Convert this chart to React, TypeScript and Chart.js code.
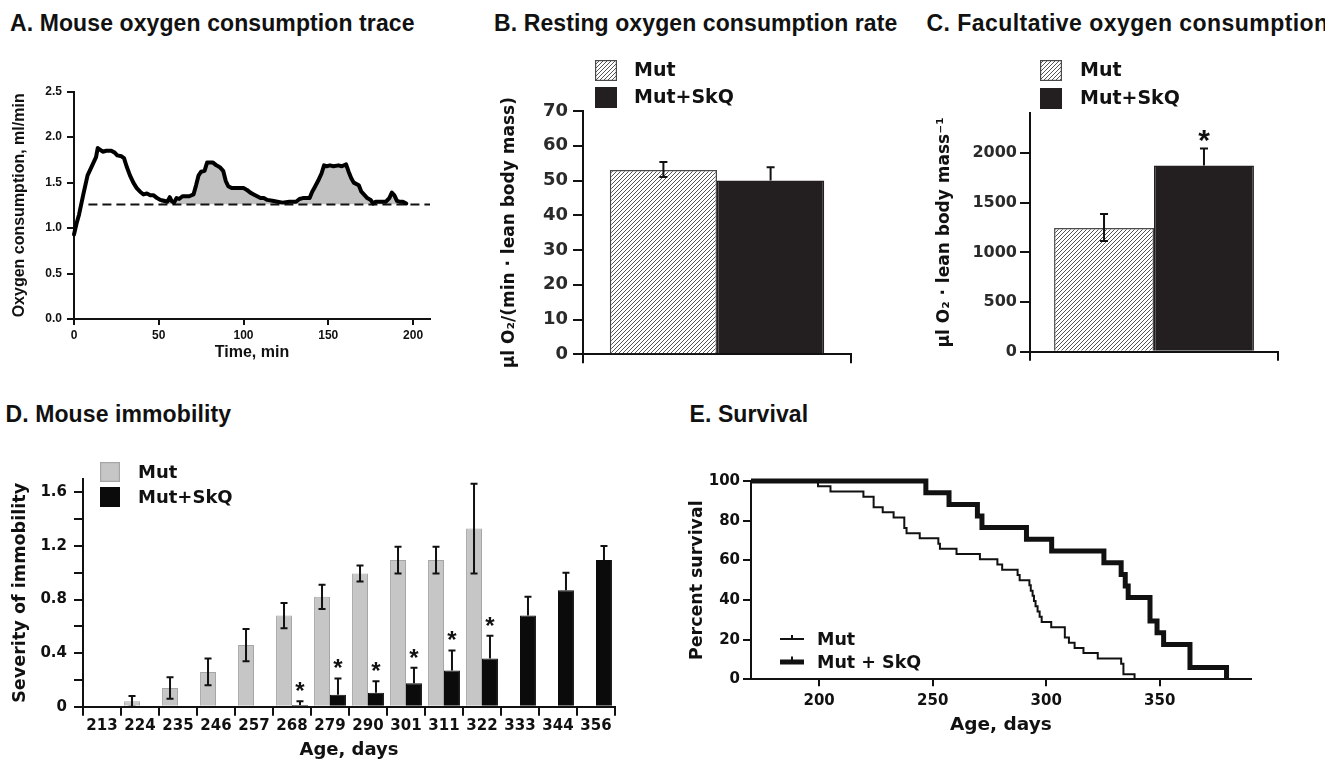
import React, { useEffect, useRef } from 'react';
import { Chart, registerables } from 'chart.js';

Chart.register(...registerables);

const DJ = '"DejaVu Sans", "Liberation Sans", sans-serif';
const LS = '"Liberation Sans", Arial, Helvetica, sans-serif';
const INK = '#111111';

// ---------- Panel titles
const panelTitles = [
  'A. Mouse oxygen consumption trace',
  'B. Resting oxygen consumption rate',
  'C. Facultative oxygen consumption',
  'D. Mouse immobility',
  'E. Survival',
];

// ---------- Panel A: oxygen consumption trace
const traceTime = [0, 1.5, 3, 5.5, 8, 10, 11.5, 13, 14, 15.5, 17, 19, 22, 24, 25.5, 28, 29.5, 31, 33, 35, 37, 39, 41, 43, 45, 47, 49, 51, 53, 55, 56.5, 57.5, 59, 60.5, 62, 64, 66, 68, 70.5, 72, 73.5, 75, 77, 78.5, 80, 82, 84, 86, 88, 89.5, 91, 93, 96, 100, 102, 104, 106, 108, 110, 112, 114, 117, 120, 123, 127, 131, 133, 135, 139, 140.5, 142, 144, 146, 147.5, 149, 151, 153, 156, 158, 160.5, 162, 163.5, 165, 168, 169.5, 171, 173, 175, 176.5, 178, 180, 184, 186, 187.5, 189, 190.5, 192, 194, 196];
const traceValue = [0.93, 1.05, 1.15, 1.37, 1.58, 1.66, 1.72, 1.78, 1.88, 1.86, 1.84, 1.85, 1.85, 1.83, 1.8, 1.79, 1.77, 1.68, 1.58, 1.5, 1.44, 1.4, 1.37, 1.38, 1.36, 1.36, 1.33, 1.31, 1.3, 1.29, 1.34, 1.3, 1.28, 1.33, 1.32, 1.35, 1.35, 1.35, 1.37, 1.47, 1.58, 1.62, 1.63, 1.72, 1.72, 1.72, 1.69, 1.67, 1.63, 1.52, 1.46, 1.44, 1.44, 1.44, 1.42, 1.39, 1.37, 1.35, 1.33, 1.33, 1.31, 1.3, 1.29, 1.28, 1.29, 1.29, 1.32, 1.33, 1.33, 1.4, 1.45, 1.52, 1.6, 1.69, 1.68, 1.69, 1.68, 1.69, 1.68, 1.7, 1.62, 1.55, 1.5, 1.47, 1.4, 1.37, 1.33, 1.31, 1.27, 1.29, 1.29, 1.29, 1.33, 1.39, 1.36, 1.3, 1.29, 1.29, 1.27];
const baselineLevel = 1.26;
const baselineSpan = [8.5, 210];
const shadeFrom = 50;
const traceTicksX = [0, 50, 100, 150, 200];
const traceTicksY = [0, 0.5, 1, 1.5, 2, 2.5];

// ---------- Panels B and C
const groups = ['Mut', 'Mut+SkQ'];
const restingMean = [53.0, 50.0];
const restingErrUp = [2.3, 3.8];
const restingErrDown = [2.0, 0];
const restingTicks = [0, 10, 20, 30, 40, 50, 60, 70];
const facultMean = [1245, 1875];
const facultErrUp = [140, 170];
const facultErrDown = [130, 0];
const facultStars = [false, true];
const facultTicks = [0, 500, 1000, 1500, 2000];

// ---------- Panel D: immobility
const ageLabels = ['213', '224', '235', '246', '257', '268', '279', '290', '301', '311', '322', '333', '344', '356'];
const immobMut = [0, 0.04, 0.14, 0.26, 0.46, 0.68, 0.82, 0.995, 1.095, 1.095, 1.33, null, null, null];
const immobMutErr = [0, 0.04, 0.08, 0.1, 0.12, 0.095, 0.09, 0.06, 0.1, 0.1, 0.335, null, null, null];
const immobSkq = [0, 0, 0, 0, 0, 0.013, 0.09, 0.105, 0.175, 0.27, 0.36, 0.68, 0.87, 1.095];
const immobSkqErr = [0, 0, 0, 0, 0, 0.027, 0.12, 0.085, 0.115, 0.15, 0.17, 0.14, 0.13, 0.105];
const immobStars = [false, false, false, false, false, true, true, true, true, true, true, false, false, false];
const immobTicks = [0, 0.2, 0.4, 0.6, 0.8, 1.0, 1.2, 1.4, 1.6];
const immobLabelled = [0, 0.4, 0.8, 1.2, 1.6];

// ---------- Panel E: survival
const survMutDays = [170, 199.5, 205, 219.5, 224, 228, 232.8, 237.5, 238.5, 244.3, 252.5, 253.2, 260.5, 270.8, 278.5, 280.6, 287.4, 288.3, 292.6, 293.2, 294, 294.6, 295.3, 296.2, 297.1, 298, 302.2, 308.2, 310, 312.5, 316.4, 322.7, 333, 334, 338.9];
const survMutPct = [100, 97.4, 94.7, 92.1, 86.8, 84.2, 81.6, 76.3, 73.7, 71.1, 68.4, 65.8, 63.2, 60.5, 57.9, 55.3, 52.6, 50.0, 47.4, 44.7, 42.1, 39.5, 36.8, 34.2, 31.6, 28.9, 26.3, 21.1, 18.4, 15.8, 13.2, 10.5, 7.9, 2.6, 0];
const survSkqDays = [170, 247, 257.2, 269.7, 271.7, 291.3, 302.4, 325.4, 333, 334.8, 336.1, 345.7, 348.8, 351.7, 363.3, 379.4];
const survSkqPct = [100, 94.1, 88.2, 82.4, 76.5, 70.6, 64.7, 58.8, 52.9, 47.1, 41.2, 29.4, 23.5, 17.6, 5.9, 0];
const survSeries = ['Mut', 'Mut + SkQ'];
const survTicksX = [200, 250, 300, 350];
const survTicksY = [0, 20, 40, 60, 80, 100];

// ---------- helpers
const bold = (family: string, size: number) => ({ family, size, weight: 'bold' as const });
const setTicks = (vals: number[]) => (s: any) => {
  s.ticks = vals.map((v) => ({ value: v }));
};
const plainNumber = (v: any) => String(Number(v));

const axisGrid = (tickLength: number) => ({
  display: true,
  drawOnChartArea: false,
  drawTicks: true,
  tickLength,
  color: INK,
  lineWidth: 2,
});
const axisBorder = { display: true, color: INK, width: 2 };

const errorBars = {
  id: 'errorBars',
  afterDatasetsDraw(chart: any) {
    const ctx = chart.ctx;
    chart.data.datasets.forEach((ds: any, i: number) => {
      if (!ds.errUp && !ds.stars) return;
      const meta = chart.getDatasetMeta(i);
      const ys = chart.scales[meta.yAxisID];
      meta.data.forEach((el: any, j: number) => {
        const v = ds.data[j];
        if (v === null || v === undefined) return;
        const up = ds.errUp ? ds.errUp[j] || 0 : 0;
        const dn = ds.errDown ? ds.errDown[j] || 0 : 0;
        const x = el.x;
        const yVal = ys.getPixelForValue(v);
        const yTop = ys.getPixelForValue(v + up);
        const yBot = ys.getPixelForValue(v - dn);
        const cap = ds.errCap || 4;
        ctx.save();
        ctx.strokeStyle = INK;
        ctx.lineWidth = 2;
        if (up > 0 || dn > 0) {
          ctx.beginPath();
          ctx.moveTo(x, up > 0 ? yTop : yVal);
          ctx.lineTo(x, dn > 0 ? yBot : yVal);
          if (up > 0) {
            ctx.moveTo(x - cap, yTop);
            ctx.lineTo(x + cap, yTop);
          }
          if (dn > 0) {
            ctx.moveTo(x - cap, yBot);
            ctx.lineTo(x + cap, yBot);
          }
          ctx.stroke();
        }
        if (ds.stars && ds.stars[j]) {
          const fs = ds.starSize || 24;
          ctx.font = `bold ${fs}px ${LS}`;
          ctx.fillStyle = INK;
          ctx.textAlign = 'center';
          ctx.textBaseline = 'alphabetic';
          ctx.fillText('*', x, yTop - (ds.starGap || 16) + 0.58 * fs);
        }
        ctx.restore();
      });
    });
  },
};

function boxLegend(o: { dx: number; dys: number[]; w: number; h: number; tx: number; size: number }) {
  return {
    id: 'boxLegend',
    afterDraw(chart: any) {
      const { ctx, chartArea: a } = chart;
      chart.data.datasets.forEach((ds: any, i: number) => {
        const x = a.left + o.dx;
        const y = a.top + o.dys[i];
        ctx.save();
        ctx.fillStyle = ds.backgroundColor;
        ctx.fillRect(x, y, o.w, o.h);
        ctx.strokeStyle = ds.borderColor;
        ctx.lineWidth = 1.2;
        ctx.strokeRect(x + 0.6, y + 0.6, o.w - 1.2, o.h - 1.2);
        ctx.fillStyle = INK;
        ctx.font = `bold ${o.size}px ${DJ}`;
        ctx.textAlign = 'left';
        ctx.textBaseline = 'middle';
        ctx.fillText(ds.label, a.left + o.tx, y + o.h / 2 + 1);
        ctx.restore();
      });
    },
  };
}

function lineLegend(o: { dx: number; len: number; dys: number[]; tx: number; size: number }) {
  return {
    id: 'lineLegend',
    afterDraw(chart: any) {
      const { ctx, chartArea: a } = chart;
      chart.data.datasets.forEach((ds: any, i: number) => {
        const x = a.left + o.dx;
        const y = a.bottom + o.dys[i];
        ctx.save();
        ctx.strokeStyle = ds.borderColor;
        ctx.lineWidth = ds.borderWidth;
        ctx.beginPath();
        ctx.moveTo(x, y);
        ctx.lineTo(x + o.len, y);
        ctx.stroke();
        ctx.lineWidth = 2;
        ctx.beginPath();
        ctx.moveTo(x + o.len / 2, y);
        ctx.lineTo(x + o.len / 2, y - ds.borderWidth / 2 - 3);
        ctx.stroke();
        ctx.fillStyle = INK;
        ctx.font = `bold ${o.size}px ${DJ}`;
        ctx.textAlign = 'left';
        ctx.textBaseline = 'middle';
        ctx.fillText(ds.label, a.left + o.tx, y + 1);
        ctx.restore();
      });
    },
  };
}

function makeHatch(): CanvasPattern | string {
  const c = document.createElement('canvas');
  c.width = 4;
  c.height = 4;
  const g = c.getContext('2d');
  if (!g) return '#bbbbbb';
  g.fillStyle = '#ffffff';
  g.fillRect(0, 0, 4, 4);
  g.strokeStyle = '#555555';
  g.lineWidth = 1;
  g.beginPath();
  g.moveTo(-1, 5);
  g.lineTo(5, -1);
  g.moveTo(-1, 1);
  g.lineTo(1, -1);
  g.moveTo(3, 5);
  g.lineTo(5, 3);
  g.stroke();
  const p = g.createPattern(c, 'repeat');
  return p || '#bbbbbb';
}

const GEO = {
  A: { left: 0, top: 60, w: 450, h: 310 },
  B: { left: 480, top: 40, w: 400, h: 335 },
  C: { left: 900, top: 40, w: 425, h: 335 },
  D: { left: 0, top: 440, w: 640, h: 324 },
  E: { left: 660, top: 440, w: 665, h: 324 },
};

const titlePos = [
  { left: 10, top: 11.5, spacing: 0.1 },
  { left: 494, top: 11.5, spacing: 0.1 },
  { left: 926.5, top: 11.5, spacing: 0.45 },
  { left: 5.5, top: 402.5, spacing: 0.1 },
  { left: 689.5, top: 402.5, spacing: 0.1 },
];

const base = {
  responsive: false,
  maintainAspectRatio: false,
  animation: false as const,
  events: [] as any[],
};

export default function App() {
  const refA = useRef<HTMLCanvasElement>(null);
  const refB = useRef<HTMLCanvasElement>(null);
  const refC = useRef<HTMLCanvasElement>(null);
  const refD = useRef<HTMLCanvasElement>(null);
  const refE = useRef<HTMLCanvasElement>(null);

  useEffect(() => {
    const charts: Chart[] = [];
    const hatch = makeHatch();

    // ----- A
    const tracePts = traceTime.map((t, i) => ({ x: t, y: traceValue[i] }));
    charts.push(
      new Chart(refA.current as HTMLCanvasElement, {
        type: 'line',
        data: {
          datasets: [
            {
              label: 'trace',
              data: tracePts,
              borderColor: '#000',
              borderWidth: 4,
              pointRadius: 0,
              tension: 0,
              fill: false,
              order: 0,
              clip: false,
              borderJoinStyle: 'round',
              borderCapStyle: 'round',
            } as any,
            {
              label: 'baseline',
              data: baselineSpan.map((t) => ({ x: t, y: baselineLevel })),
              borderColor: '#111',
              borderWidth: 2,
              borderDash: [9, 5],
              pointRadius: 0,
              fill: false,
              order: 1,
              clip: false,
            } as any,
            {
              label: 'area',
              data: tracePts.filter((p) => p.x >= shadeFrom),
              borderWidth: 0,
              borderColor: 'rgba(0,0,0,0)',
              pointRadius: 0,
              tension: 0,
              fill: { target: { value: baselineLevel }, above: '#c2c2c2', below: 'rgba(0,0,0,0)' },
              order: 2,
            } as any,
          ],
        },
        options: {
          ...base,
          layout: { padding: { top: 31.7, right: 20, left: 0, bottom: 0 } },
          plugins: { legend: { display: false }, tooltip: { enabled: false } },
          scales: {
            x: {
              type: 'linear',
              min: 0,
              max: 210,
              afterBuildTicks: setTicks(traceTicksX),
              afterFit: (s: any) => {
                s.height = 51;
              },
              grid: axisGrid(6),
              border: axisBorder,
              ticks: { font: bold(LS, 12), color: INK, padding: 3, maxRotation: 0, callback: plainNumber },
              title: { display: true, text: 'Time, min', font: bold(LS, 16), color: INK, padding: { top: 0, bottom: 7.4 } },
            },
            y: {
              type: 'linear',
              min: 0,
              max: 2.5,
              afterBuildTicks: setTicks(traceTicksY),
              afterFit: (s: any) => {
                s.width = 74;
              },
              grid: axisGrid(7),
              border: axisBorder,
              ticks: { font: bold(LS, 12), color: INK, padding: 5, callback: (v: any) => Number(v).toFixed(1) },
              title: { display: true, text: 'Oxygen consumption, ml/min', font: bold(LS, 16), color: INK, padding: { top: 10.4, bottom: 0 } },
            },
          },
        } as any,
      })
    );

    // ----- B and C
    const barPanel = (
      el: HTMLCanvasElement,
      mean: number[],
      up: number[],
      down: number[],
      stars: boolean[] | null,
      cfg: any
    ) =>
      new Chart(el, {
        type: 'bar',
        data: {
          labels: [''],
          datasets: groups.map((g, i) => ({
            label: g,
            data: [mean[i]],
            errUp: [up[i]],
            errDown: [down[i]],
            errCap: 4,
            stars: stars ? [stars[i]] : undefined,
            starSize: 30,
            starGap: 16,
            backgroundColor: i === 0 ? hatch : '#231f20',
            borderColor: i === 0 ? '#4a4a4a' : '#231f20',
            borderWidth: 1.5,
            categoryPercentage: cfg.catPct,
            barPercentage: 1,
          })) as any,
        },
        options: {
          ...base,
          layout: { padding: { top: cfg.padTop, right: cfg.padRight, left: 0, bottom: 0 } },
          plugins: { legend: { display: false }, tooltip: { enabled: false } },
          scales: {
            x: {
              type: 'category',
              offset: true,
              afterFit: (s: any) => {
                s.height = cfg.xh;
              },
              grid: { ...axisGrid(9), offset: true },
              border: axisBorder,
              ticks: { display: false },
            },
            y: {
              type: 'linear',
              min: 0,
              max: cfg.max,
              afterBuildTicks: setTicks(cfg.ticks),
              afterFit: (s: any) => {
                s.width = cfg.yw;
              },
              grid: axisGrid(10),
              border: axisBorder,
              ticks: { font: bold(DJ, cfg.tickSize), color: '#2a2a2a', padding: cfg.tickPad, callback: plainNumber },
              title: { display: true, text: cfg.title, font: bold(DJ, 17), color: INK, padding: { top: cfg.titlePad, bottom: 0 } },
            },
          },
        } as any,
        plugins: [errorBars, boxLegend(cfg.legend)],
      });

    charts.push(
      barPanel(refB.current as HTMLCanvasElement, restingMean, restingErrUp, restingErrDown, null, {
        catPct: 0.8,
        padTop: 71,
        padRight: 29,
        xh: 20.7,
        max: 70,
        ticks: restingTicks,
        yw: 103,
        tickSize: 18,
        tickPad: 5,
        title: 'μl O₂/(min · lean body mass)',
        titlePad: 19.8,
        legend: { dx: 12, dys: [-51, -24], w: 22, h: 21, tx: 51, size: 19 },
      })
    );
    charts.push(
      barPanel(refC.current as HTMLCanvasElement, facultMean, facultErrUp, facultErrDown, facultStars, {
        catPct: 0.806,
        padTop: 73.3,
        padRight: 47,
        xh: 23.3,
        max: 2400,
        ticks: facultTicks,
        yw: 130,
        tickSize: 16,
        tickPad: 3,
        title: 'μl O₂ · lean body mass⁻¹',
        titlePad: 34.8,
        legend: { dx: 10, dys: [-53.3, -25.3], w: 22, h: 21, tx: 50, size: 19 },
      })
    );

    // ----- D
    charts.push(
      new Chart(refD.current as HTMLCanvasElement, {
        type: 'bar',
        data: {
          labels: ageLabels,
          datasets: [
            {
              label: 'Mut',
              data: immobMut,
              errUp: immobMutErr,
              errDown: immobMutErr,
              errCap: 3.5,
              backgroundColor: '#c6c6c6',
              borderColor: '#a6a6a6',
              borderWidth: 1,
              categoryPercentage: 0.84,
              barPercentage: 1,
            },
            {
              label: 'Mut+SkQ',
              data: immobSkq,
              errUp: immobSkqErr,
              errCap: 3.5,
              stars: immobStars,
              starSize: 24,
              starGap: 16,
              backgroundColor: '#0b0b0b',
              borderColor: '#0b0b0b',
              borderWidth: 1,
              categoryPercentage: 0.84,
              barPercentage: 1,
            },
          ] as any,
        },
        options: {
          ...base,
          layout: { padding: { top: 39, right: 25, left: 0, bottom: 0 } },
          plugins: { legend: { display: false }, tooltip: { enabled: false } },
          scales: {
            x: {
              type: 'category',
              offset: true,
              afterFit: (s: any) => {
                s.height = 57.3;
              },
              grid: { ...axisGrid(9), offset: true },
              border: axisBorder,
              ticks: { font: bold(DJ, 15), color: INK, padding: 1, maxRotation: 0, autoSkip: false },
              title: { display: true, text: 'Age, days', font: bold(DJ, 18), color: INK, padding: { top: 0, bottom: 3.2 } },
            },
            y: {
              type: 'linear',
              min: 0,
              max: 1.7,
              afterBuildTicks: setTicks(immobTicks),
              afterFit: (s: any) => {
                s.width = 83;
              },
              grid: axisGrid(9),
              border: axisBorder,
              ticks: {
                font: bold(DJ, 15),
                color: INK,
                padding: 7,
                callback: (v: any) => {
                  const n = Number(v);
                  return immobLabelled.some((l) => Math.abs(l - n) < 1e-6) ? (n === 0 ? '0' : n.toFixed(1)) : '';
                },
              },
              title: { display: true, text: 'Severity of immobility', font: bold(DJ, 17.6), color: INK, padding: { top: 9.4, bottom: 0 } },
            },
          },
        } as any,
        plugins: [errorBars, boxLegend({ dx: 17, dys: [-17, 8], w: 20, h: 20, tx: 55, size: 18 })],
      })
    );

    // ----- E
    charts.push(
      new Chart(refE.current as HTMLCanvasElement, {
        type: 'line',
        data: {
          datasets: [
            {
              label: survSeries[0],
              data: survMutDays.map((d, i) => ({ x: d, y: survMutPct[i] })),
              stepped: true,
              borderColor: '#111',
              borderWidth: 2,
              pointRadius: 0,
              fill: false,
              clip: false,
            },
            {
              label: survSeries[1],
              data: survSkqDays.map((d, i) => ({ x: d, y: survSkqPct[i] })),
              stepped: true,
              borderColor: '#111',
              borderWidth: 5,
              pointRadius: 0,
              fill: false,
              clip: false,
            },
          ] as any,
        },
        options: {
          ...base,
          layout: { padding: { top: 41, right: 74.4, left: 0, bottom: 0 } },
          plugins: { legend: { display: false }, tooltip: { enabled: false } },
          scales: {
            x: {
              type: 'linear',
              min: 170,
              max: 390,
              afterBuildTicks: setTicks(survTicksX),
              afterFit: (s: any) => {
                s.height = 84.7;
              },
              grid: axisGrid(7),
              border: axisBorder,
              ticks: { font: bold(DJ, 15), color: INK, padding: 5.4, maxRotation: 0, callback: plainNumber },
              title: { display: true, text: 'Age, days', font: bold(DJ, 18.5), color: INK, padding: { top: 0, bottom: 28 } },
            },
            y: {
              type: 'linear',
              min: 0,
              max: 100,
              afterBuildTicks: setTicks(survTicksY),
              afterFit: (s: any) => {
                s.width = 91;
              },
              grid: axisGrid(8),
              border: axisBorder,
              ticks: { font: bold(DJ, 15), color: INK, padding: 3, callback: plainNumber },
              title: { display: true, text: 'Percent survival', font: bold(DJ, 17.4), color: INK, padding: { top: 26.6, bottom: 0 } },
            },
          },
        } as any,
        plugins: [lineLegend({ dx: 29, len: 24, dys: [-40.3, -17.3], tx: 66, size: 17.5 })],
      })
    );

    return () => charts.forEach((c) => c.destroy());
  }, []);

  const canvasStyle = (g: { left: number; top: number; w: number; h: number }): React.CSSProperties => ({
    position: 'absolute',
    left: g.left,
    top: g.top,
    width: g.w,
    height: g.h,
  });

  return (
    <div
      style={{
        position: 'absolute',
        left: 0,
        top: 0,
        width: 1325,
        height: 764,
        background: '#ffffff',
        overflow: 'hidden',
      }}
    >
      {panelTitles.map((t, i) => (
        <div
          key={t}
          style={{
            position: 'absolute',
            left: titlePos[i].left,
            top: titlePos[i].top,
            fontFamily: LS,
            fontWeight: 'bold',
            fontSize: 23,
            lineHeight: '23px',
            letterSpacing: titlePos[i].spacing,
            color: INK,
            whiteSpace: 'nowrap',
          }}
        >
          {t}
        </div>
      ))}
      <canvas ref={refA} width={GEO.A.w} height={GEO.A.h} style={canvasStyle(GEO.A)} />
      <canvas ref={refB} width={GEO.B.w} height={GEO.B.h} style={canvasStyle(GEO.B)} />
      <canvas ref={refC} width={GEO.C.w} height={GEO.C.h} style={canvasStyle(GEO.C)} />
      <canvas ref={refD} width={GEO.D.w} height={GEO.D.h} style={canvasStyle(GEO.D)} />
      <canvas ref={refE} width={GEO.E.w} height={GEO.E.h} style={canvasStyle(GEO.E)} />
    </div>
  );
}
